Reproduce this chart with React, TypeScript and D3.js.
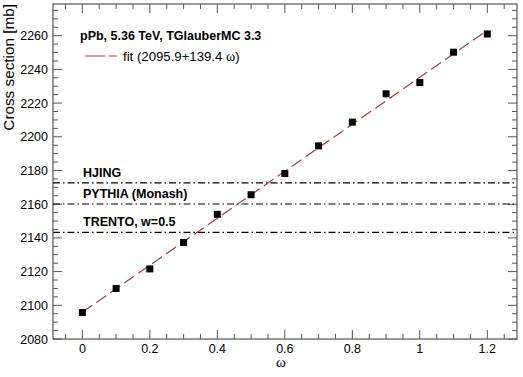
import React, {useEffect, useRef} from 'react';
import * as d3 from 'd3';

const omega = [0, 0.1, 0.2, 0.3, 0.4, 0.5, 0.6, 0.7, 0.8, 0.9, 1.0, 1.1, 1.2];
const sigma = [2095.7, 2110, 2121.6, 2137.3, 2154, 2165.6, 2178.2, 2194.6, 2208.7, 2225.5, 2232.2, 2250.2, 2261];
const fitA = 2095.9;
const fitB = 139.4;
const models = ['HJING', 'PYTHIA (Monash)', 'TRENTO, w=0.5'];
const modelValues = [2172.7, 2160.1, 2143.3];
const xTicks = [0, 0.2, 0.4, 0.6, 0.8, 1, 1.2];
const yTicks = [2080, 2100, 2120, 2140, 2160, 2180, 2200, 2220, 2240, 2260];

const W = 523;
const H = 377;
const m = {left: 53, right: 6, top: 4, bottom: 38};
const FONT = '"Liberation Sans", Arial, sans-serif';
const SERIF = '"Liberation Serif", "Times New Roman", serif';

const App = () => {
    const svgRef = useRef<SVGSVGElement>(null);

    useEffect(() => {
        const svg = d3.select(svgRef.current);
        svg.selectAll('*').remove();

        const x = d3.scaleLinear().domain([-0.087, 1.288]).range([m.left, W - m.right]);
        const y = d3.scaleLinear().domain([2080, 2278.8]).range([H - m.bottom, m.top]);
        const x0 = m.left, x1 = W - m.right, y0 = H - m.bottom, y1 = m.top;
        const axisColor = '#555';

        // frame
        svg.append('rect')
            .attr('x', x0).attr('y', y1)
            .attr('width', x1 - x0).attr('height', y0 - y1)
            .attr('fill', 'none').attr('stroke', axisColor).attr('stroke-width', 1.2);

        // ticks (inward, on all four sides)
        const ticks = svg.append('g').attr('stroke', axisColor).attr('stroke-width', 1);
        d3.range(-0.05, 1.2501, 0.05).forEach(v => {
            const major = Math.abs(v / 0.2 - Math.round(v / 0.2)) < 1e-6;
            const len = major ? 9 : 5;
            const px = x(v);
            ticks.append('line').attr('x1', px).attr('x2', px).attr('y1', y0).attr('y2', y0 - len);
            ticks.append('line').attr('x1', px).attr('x2', px).attr('y1', y1).attr('y2', y1 + len);
        });
        d3.range(2080, 2276, 5).forEach(v => {
            const major = v % 20 === 0;
            const len = major ? 9 : 5;
            const py = y(v);
            ticks.append('line').attr('x1', x0).attr('x2', x0 + len).attr('y1', py).attr('y2', py);
            ticks.append('line').attr('x1', x1).attr('x2', x1 - len).attr('y1', py).attr('y2', py);
        });

        svg.append('g').selectAll('text').data(xTicks).enter().append('text')
            .attr('x', d => x(d)).attr('y', y0 + 13.5)
            .attr('text-anchor', 'middle')
            .attr('font-family', FONT).attr('font-size', 12.5)
            .text(d => d3.format('')(d));

        svg.append('g').selectAll('text').data(yTicks).enter().append('text')
            .attr('x', x0 - 5).attr('y', d => y(d) + 4.5)
            .attr('text-anchor', 'end')
            .attr('font-family', FONT).attr('font-size', 12.5)
            .text(d => d);

        // axis titles (ROOT style: y title aligned to the top end)
        svg.append('text')
            .attr('transform', `translate(14, 4) rotate(-90)`)
            .attr('text-anchor', 'end')
            .attr('font-family', FONT).attr('font-size', 15.3)
            .text('Cross section [mb]');
        svg.append('text')
            .attr('x', 281).attr('y', 367)
            .attr('text-anchor', 'middle')
            .attr('font-family', SERIF).attr('font-size', 15)
            .text('ω');

        // model reference lines
        const mg = svg.append('g');
        modelValues.forEach((v, i) => {
            mg.append('line')
                .attr('x1', x0).attr('x2', x1).attr('y1', y(v)).attr('y2', y(v))
                .attr('stroke', '#000').attr('stroke-width', 1.2)
                .attr('stroke-dasharray', '7,3,1.5,3');
            mg.append('text')
                .attr('x', 83).attr('y', y(v) - 6)
                .attr('font-family', FONT).attr('font-size', 12.5).attr('font-weight', 'bold')
                .text(models[i]);
        });

        // fit line
        const fitColor = '#b03a3a';
        svg.append('line')
            .attr('x1', x(0)).attr('x2', x(1.2))
            .attr('y1', y(fitA)).attr('y2', y(fitA + fitB * 1.2))
            .attr('stroke', fitColor).attr('stroke-width', 1.2)
            .attr('stroke-dasharray', '12,5');

        // points
        svg.append('g').selectAll('rect').data(omega).enter().append('rect')
            .attr('x', (d) => x(d) - 3.5)
            .attr('y', (d, i) => y(sigma[i]) - 3.5)
            .attr('width', 7).attr('height', 7)
            .attr('fill', '#000');

        // header + legend
        svg.append('text')
            .attr('x', 80).attr('y', 40)
            .attr('font-family', FONT).attr('font-size', 12.5).attr('font-weight', 'bold')
            .text('pPb, 5.36 TeV, TGlauberMC 3.3');
        svg.append('line')
            .attr('x1', 85).attr('x2', 117).attr('y1', 56).attr('y2', 56)
            .attr('stroke', fitColor).attr('stroke-width', 1.2)
            .attr('stroke-dasharray', '20,4,8');
        const leg = svg.append('text')
            .attr('x', 123).attr('y', 60.5)
            .attr('font-family', FONT).attr('font-size', 13.2);
        leg.append('tspan').text(`fit (${fitA}+${fitB} `);
        leg.append('tspan').attr('font-family', SERIF).attr('font-size', 14).text('ω');
        leg.append('tspan').text(')');
    }, []);

    return (
        <div style={{position: 'absolute', left: 0, top: 0}}>
            <svg ref={svgRef} width={W} height={H} style={{display: 'block', background: '#fff'}}></svg>
        </div>
    );
};

export default App;
